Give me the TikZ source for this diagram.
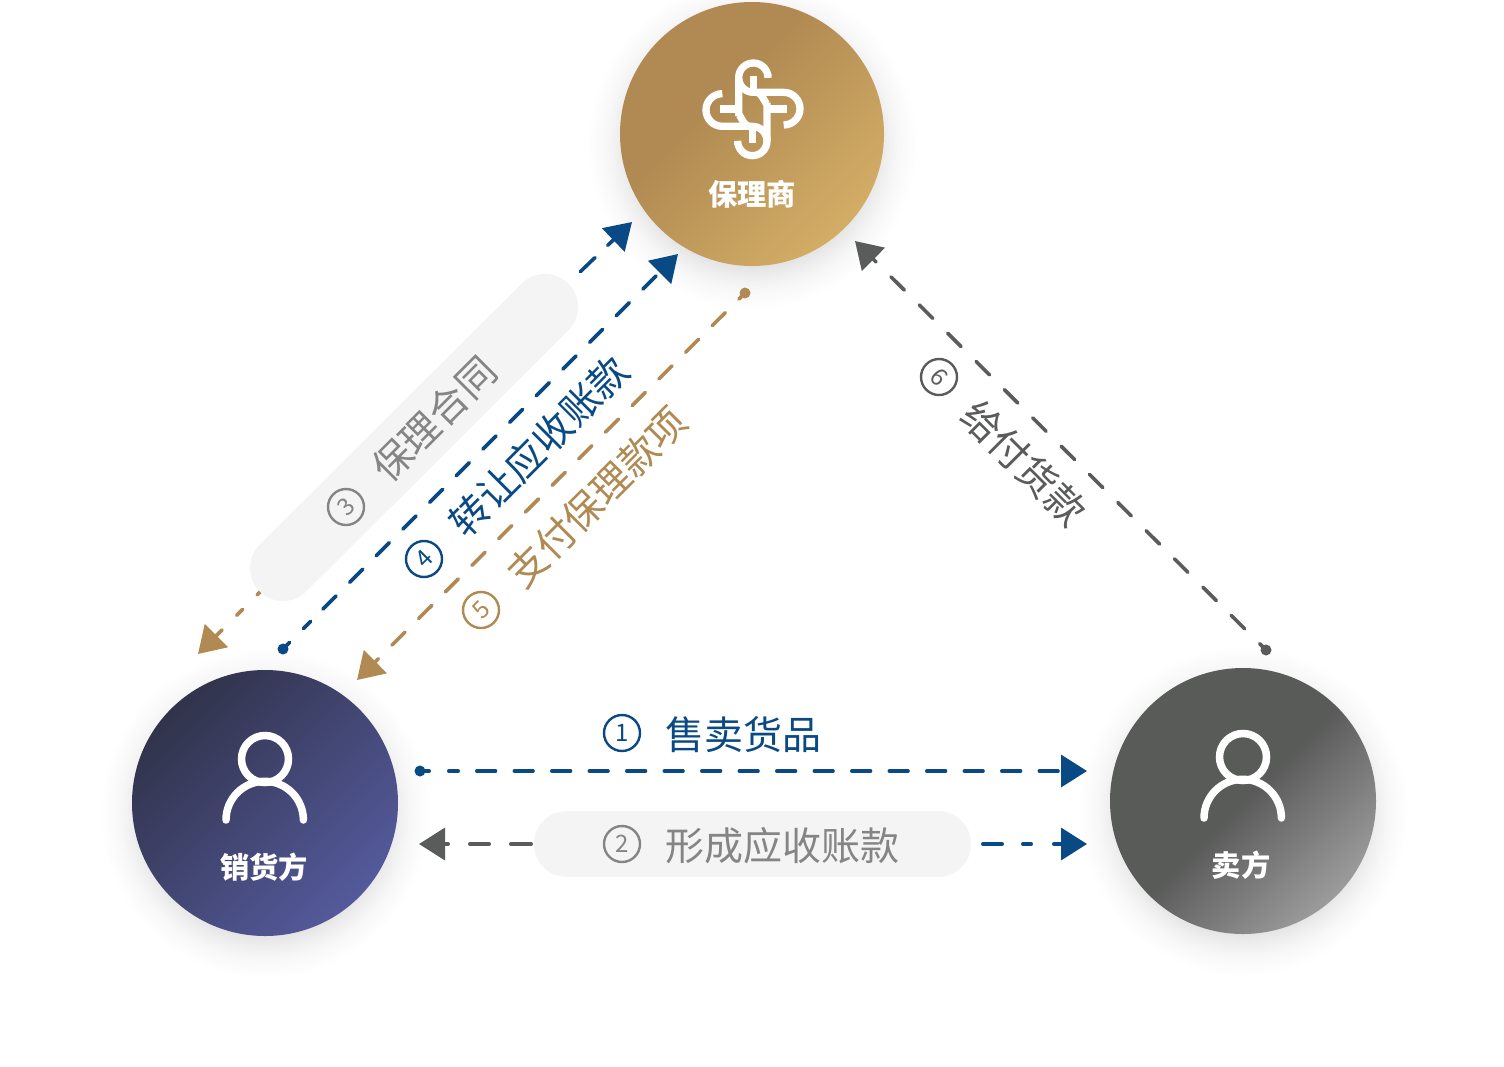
\documentclass[tikz,border=0pt]{standalone}
\usepackage{fontspec}
\usetikzlibrary{arrows.meta}
\newfontfamily\cjk{Noto Sans CJK SC}
\definecolor{navy}{HTML}{0A4A84}
\definecolor{tan}{HTML}{B08A52}
\definecolor{dgrey}{HTML}{5A5B5B}
\definecolor{lgrey}{HTML}{858585}
\definecolor{pillc}{HTML}{F4F4F4}
\pgfdeclareverticalshading{goldshade}{100bp}{rgb(0bp)=(0.83,0.68,0.40); rgb(25bp)=(0.83,0.68,0.40); rgb(60bp)=(0.69,0.54,0.32); rgb(100bp)=(0.69,0.54,0.32)}
\pgfdeclareverticalshading{navyshade}{100bp}{rgb(0bp)=(0.33,0.35,0.61); rgb(25bp)=(0.33,0.35,0.61); rgb(75bp)=(0.19,0.20,0.29); rgb(100bp)=(0.19,0.20,0.29)}
\pgfdeclareverticalshading{greyshade}{100bp}{rgb(0bp)=(0.61,0.61,0.61); rgb(25bp)=(0.61,0.61,0.61); rgb(50bp)=(0.35,0.355,0.35); rgb(100bp)=(0.35,0.355,0.35)}
\pgfdeclareradialshading{softshadow}{\pgfpoint{0bp}{0bp}}{rgb(0bp)=(0.88,0.88,0.88); rgb(18bp)=(0.88,0.88,0.88); rgb(20bp)=(0.93,0.93,0.93); rgb(22bp)=(0.97,0.97,0.97); rgb(25bp)=(1,1,1); rgb(50bp)=(1,1,1)}
\tikzset{
  disc/.style={circle,inner sep=0pt,minimum size=#1,shading angle=45},
  softglow/.style={circle,inner sep=0pt,minimum size=#1,shading=softshadow},
  pillbar/.style={line width=66pt,line cap=round,draw=pillc},
  flow/.style={line width=3.6pt,line cap=round,draw=#1},
  tipped/.style={-{Triangle[length=26pt,width=32pt,fill=#1,color=#1]}},
  enddot/.style={circle,inner sep=0pt,minimum size=11pt,fill=#1},
  lbl/.style={inner sep=0pt,text=#1,font=\cjk\fontsize{39}{39}\selectfont},
  num/.style={circle,draw=#1,line width=2.4pt,text=#1,inner sep=0pt,minimum size=36pt,font=\cjk\fontsize{24}{24}\selectfont},
  who/.style={inner sep=0pt,text=white,font=\cjk\bfseries\fontsize{29.3}{29.3}\selectfont},
  iconline/.style={draw=white,line width=7.5pt,line cap=round},
  logoline/.style={draw=white,line width=7.3pt}
}
\begin{document}
\begin{tikzpicture}[x=1pt,y=-1pt]
\useasboundingbox (0,0) rectangle (1504,1066);
\fill[white] (0,0) rectangle (1504,1066);
% shadows
\node[softglow=330pt] (glowA) at (752,144) {};
\node[softglow=330pt] (glowB) at (265,813) {};
\node[softglow=330pt] (glowC) at (1243,811) {};
% circles
\node[disc=264pt,shading=goldshade] (factor) at (752,134) {};
\node[disc=266pt,shading=navyshade] (seller) at (265,803) {};
\node[disc=266pt,shading=greyshade] (buyer) at (1243,801) {};
% named ends
\coordinate (t3a) at (632,222); \coordinate (s3a) at (580.3,271.7);
\coordinate (t3b) at (198,654); \coordinate (s3b) at (270,582);
\coordinate (t4) at (678,254);
\coordinate (t5) at (357,680);
\coordinate (t6) at (855,241);
\coordinate (t1) at (1087,771);
\coordinate (t2a) at (419,844); \coordinate (s2a) at (531.2,844);
\coordinate (t2b) at (1087,844); \coordinate (s2b) at (982.8,844);
\coordinate (p3a) at (283,568); \coordinate (p3b) at (545,307);
\coordinate (p2a) at (567,844); \coordinate (p2b) at (938,844);
% connectors under pills
\draw[flow=tan,tipped=tan,dash pattern=on 8.4pt off 20.6pt,dash phase=19.2pt] (s3b) -- (t3b);
\draw[flow=navy,tipped=navy,dash pattern=on 20.4pt off 17.6pt on 60pt off 1pt] (s3a) -- (t3a);
% pills
\draw[pillbar] (p3a) -- (p3b);
\draw[pillbar] (p2a) -- (p2b);
% dots
\node[enddot=navy] (d1) at (420,771) {};
\node[enddot=navy] (d4) at (283,649) {};
\node[enddot=tan] (d5) at (745,293) {};
\node[enddot=dgrey] (d6) at (1266,650) {};
% connectors
\draw[flow=navy,tipped=navy,dash pattern=on 9.2pt off 19.6pt on 9.4pt off 18.6pt on 18.7pt off 18.8pt on 18.7pt off 18.8pt on 18.7pt off 18.8pt on 18.7pt off 18.8pt on 18.7pt off 18.8pt on 18.7pt off 18.8pt on 18.7pt off 18.8pt on 18.7pt off 18.8pt on 18.7pt off 18.8pt on 18.7pt off 18.8pt on 18.7pt off 18.8pt on 18.7pt off 18.8pt on 18.7pt off 18.8pt on 18.7pt off 18.8pt on 18.7pt off 18.8pt on 18.7pt off 18.8pt on 60pt off 1pt] (d1.center) -- (t1);
\draw[flow=navy,tipped=navy,dash pattern=on 9.2pt off 19.6pt on 10.4pt off 17.3pt on 18.6pt off 19.1pt on 18.6pt off 19.1pt on 18.6pt off 19.1pt on 18.6pt off 19.1pt on 18.6pt off 19.1pt on 18.6pt off 19.1pt on 18.6pt off 19.1pt on 18.6pt off 19.1pt on 18.6pt off 19.1pt on 18.6pt off 19.1pt on 18.6pt off 19.1pt on 18.6pt off 19.1pt on 18.6pt off 19.1pt on 60pt off 1pt] (d4.center) -- (t4);
\draw[flow=tan,tipped=tan,dash pattern=on 18.6pt off 19.1pt,dash phase=10pt] (d5.center) -- (t5);
\draw[flow=dgrey,tipped=dgrey,dash pattern=on 19pt off 21pt,dash phase=9.9pt] (d6.center) -- (t6);
\draw[flow=dgrey,tipped=dgrey,dash pattern=on 20.4pt off 21.6pt on 19.4pt off 21.6pt on 60pt off 1pt] (s2a) -- (t2a);
\draw[flow=navy,tipped=navy,dash pattern=on 19.4pt off 20.6pt on 8.4pt off 22.6pt on 60pt off 1pt] (s2b) -- (t2b);
% labels
\node[num=navy] (n1) at (622,733) {1};
\node[lbl=navy] (l1) at (743,735) {售卖货品};
\node[num=lgrey] (n2) at (622,844) {2};
\node[lbl=lgrey] (l2) at (782,846) {形成应收账款};
\node[num=lgrey,rotate=45] (n3) at (346,507) {3};
\node[lbl=lgrey,rotate=45] (l3) at (434,419) {保理合同};
\node[num=navy,rotate=45] (n4) at (424,559) {4};
\node[lbl=navy,rotate=45] (l4) at (539,446) {转让应收账款};
\node[num=tan,rotate=45] (n5) at (481,610) {5};
\node[lbl=tan,rotate=45] (l5) at (597,497) {支付保理款项};
\node[num=dgrey,rotate=-45] (n6) at (939,377) {6};
\node[lbl=dgrey,rotate=-45] (l6) at (1024,463) {给付货款};
\node[who] (wA) at (752,194.5) {保理商};
\node[who] (wB) at (264,867.5) {销货方};
\node[who] (wC) at (1241,865.5) {卖方};
% person icons
\draw[iconline] (265,759) circle[radius=23.5];
\draw[iconline] (226,820) arc[start angle=180,end angle=360,radius=38.7];
\begin{scope}[shift={(978,-2)}]
\draw[iconline] (265,759) circle[radius=23.5];
\draw[iconline] (226,820) arc[start angle=180,end angle=360,radius=38.7];
\end{scope}
% logo
\begin{scope}[shift={(695,50)},x=0.33333pt,y=-0.33333pt]
\draw[logoline] (219,72) -- (219,83) arc[start angle=0,end angle=-270,radius=44] -- (266,127) arc[start angle=-90,end angle=90,radius=49];
\draw[logoline] (128,284) -- (128,273) arc[start angle=180,end angle=-90,radius=44] -- (82,229) arc[start angle=90,end angle=270,radius=49];
\draw[logoline] (131,83) -- (131,198) to[out=90,in=180] (162,229);
\draw[logoline] (216,273) -- (216,158) to[out=-90,in=0] (185,127);
\draw[logoline] (176,78) -- (176,127);
\draw[logoline] (172,229) -- (172,278);
\draw[logoline] (75,177) -- (131,177);
\draw[logoline] (216,177) -- (275,177);
\end{scope}
\end{tikzpicture}
\end{document}
